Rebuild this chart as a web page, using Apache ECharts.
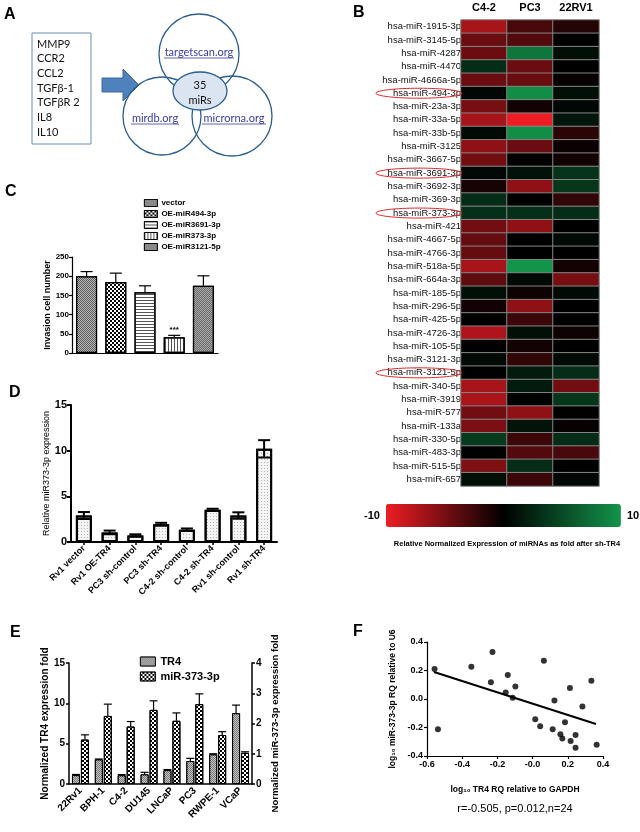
<!DOCTYPE html>
<html><head><meta charset="utf-8">
<script src="https://cdn.jsdelivr.net/npm/echarts@6/dist/echarts.min.js"></script>
<style>html,body{margin:0;padding:0;background:#fff}#c{width:640px;height:832px}</style>
</head><body><div id="c"></div>
<script>
// ---------- Panel A ----------
const aGenes = ['MMP9', 'CCR2', 'CCL2', 'TGFβ-1', 'TGFβR 2', 'IL8', 'IL10'];
const aDatabases = ['targetscan.org', 'mirdb.org', 'microrna.org'];
const aOverlap = ['35', 'miRs'];

// ---------- Panel B ----------
const bSamples = ['C4-2', 'PC3', '22RV1'];
const bMirnas = ['hsa-miR-1915-3p','hsa-miR-3145-5p','hsa-miR-4287','hsa-miR-4470','hsa-miR-4666a-5p',
  'hsa-miR-494-3p','hsa-miR-23a-3p','hsa-miR-33a-5p','hsa-miR-33b-5p','hsa-miR-3125','hsa-miR-3667-5p',
  'hsa-miR-3691-3p','hsa-miR-3692-3p','hsa-miR-369-3p','hsa-miR-373-3p','hsa-miR-421','hsa-miR-4667-5p',
  'hsa-miR-4766-3p','hsa-miR-518a-5p','hsa-miR-664a-3p','hsa-miR-185-5p','hsa-miR-296-5p','hsa-miR-425-5p',
  'hsa-miR-4726-3p','hsa-miR-105-5p','hsa-miR-3121-3p','hsa-miR-3121-5p','hsa-miR-340-5p','hsa-miR-3919',
  'hsa-miR-577','hsa-miR-133a','hsa-miR-330-5p','hsa-miR-483-3p','hsa-miR-515-5p','hsa-miR-657'];
const bC42  = [-7,-4.5,-4.5,3,-4.5,0.5,-5,-7,0.7,-6,-4.8,0.5,-1,3,3.2,-4.8,-4.2,-4.2,-7,-4,1,-0.8,0,-7.3,0,0.7,0,-7,-7.2,-4.8,-5.2,4,0,-5.3,1];
const bPC3  = [-3,-3.5,8,-4.5,-4.5,9.5,-0.8,-10,9.5,-4.5,0,1.2,-6,0,3.2,-6,0,0,10,0.7,-0.6,-6,-2.5,1,-0.8,-2,1.8,1.8,0.2,-6,1.3,-2.5,-3.5,3,-2.5];
const b22RV1 = [-1.5,0,1,0,-0.3,1,0.5,1.5,-1.8,-0.5,-0.8,3.5,3.7,-2,3,0,0.7,0,-0.8,-5,0.7,0,0,-0.6,0,0.7,3,-4.8,3.7,0,-0.3,3,-3,0,0.5];
const bHighlight = ['hsa-miR-494-3p', 'hsa-miR-3691-3p', 'hsa-miR-373-3p', 'hsa-miR-3121-5p'];
const bScaleText = ['10', '-10'];
const bScaleTitle = 'Relative Normalized Expression of miRNAs as fold after sh-TR4';

// ---------- Panel C ----------
const cGroups = ['vector', 'OE-miR494-3p', 'OE-miR3691-3p', 'OE-miR373-3p', 'OE-miR3121-5p'];
const cValues = [200, 185, 158, 41, 175];
const cErrors = [12, 23, 17, 5, 26];
const cMarks  = ['', '', '', '***', ''];

// ---------- Panel D ----------
const dGroups = ['Rv1 vector', 'Rv1 OE-TR4', 'PC3 sh-control', 'PC3 sh-TR4', 'C4-2 sh-control', 'C4-2 sh-TR4', 'Rv1 sh-control', 'Rv1 sh-TR4'];
const dValues = [2.9, 1.05, 0.72, 1.95, 1.35, 3.52, 2.9, 10.2];
const dErrors = [0.38, 0.2, 0.12, 0.15, 0.13, 0.12, 0.35, 0.95];

// ---------- Panel E ----------
const eCells = ['22Rv1', 'BPH-1', 'C4-2', 'DU145', 'LNCaP', 'PC3', 'RWPE-1', 'VCaP'];
const eTR4 = [1.1, 3.05, 1.08, 1.2, 1.72, 2.85, 3.68, 8.78];
const eTR4Err = [0.08, 0.05, 0.08, 0.25, 0.07, 0.33, 0.07, 1.0];
const eMiR = [1.47, 2.25, 1.90, 2.45, 2.09, 2.64, 1.62, 1.03];
const eMiRErr = [0.155, 0.39, 0.165, 0.30, 0.26, 0.34, 0.11, 0.035];

// ---------- Panel F ----------
const fTR4 = [-0.557,-0.538,-0.348,-0.228,-0.237,-0.141,-0.153,-0.098,-0.113,0.064,0.015,0.043,0.124,0.114,0.158,0.169,0.184,0.212,0.216,0.244,0.244,0.283,0.334,0.364];
const fMiR = [0.21,-0.213,0.226,0.33,0.118,0.168,0.046,0.088,0.008,0.269,-0.142,-0.192,-0.011,-0.213,-0.248,-0.278,-0.163,0.078,-0.294,-0.252,-0.342,-0.053,0.128,-0.321];
const fFit = [[-0.56, 0.19], [0.36, -0.175]];
const fXTicks = ['-0.6', '-0.4', '-0.2', '-0.0', '0.2', '0.4'];
const fStats = 'r=-0.505, p=0.012,n=24';

// ---------- helpers ----------
const FONT = '"Liberation Sans", Arial, Helvetica, sans-serif';
const BLACK = '#000';
function axisLine(w) { return { show: true, onZero: false, lineStyle: { color: BLACK, width: w } }; }
function axisTick(w, len) { return { show: true, length: len, lineStyle: { color: BLACK, width: w } }; }
function lbl(size, extra) { return Object.assign({ color: BLACK, fontWeight: 'bold', fontSize: size, fontFamily: FONT }, extra || {}); }

const checker = (s, c) => ({ symbol: 'rect', symbolSize: 1, color: c, dashArrayX: [[s, s], [0, s, s, 0]], dashArrayY: [s, 0] });
const hStripes = c => ({ symbol: 'rect', symbolSize: 1, color: c, dashArrayX: [1, 0], dashArrayY: [1, 2] });
const vStripes = c => ({ symbol: 'rect', symbolSize: 1, color: c, dashArrayX: [1, 2], dashArrayY: [1, 0] });
const dots = c => ({ symbol: 'rect', symbolSize: 1, color: c, dashArrayX: [1, 2], dashArrayY: [1, 2] });

const cStyles = [
  { color: '#5c5c5c', decal: checker(1, '#b8b8b8') },
  { color: '#ffffff', decal: checker(2, '#000') },
  { color: '#ffffff', decal: hStripes('#555') },
  { color: '#ffffff', decal: vStripes('#555') },
  { color: '#a9a9a9', decal: checker(1, '#6a6a6a') }
];

function errRender(offsetPx, both, capW, lw, marks) {
  return function (params, api) {
    const i = api.value(0), v = api.value(1), e = api.value(2);
    const pTop = api.coord([i, v + e]);
    const pBot = api.coord([i, both ? v - e : v]);
    const x = pTop[0] + offsetPx;
    const style = { stroke: BLACK, lineWidth: lw };
    const children = [
      { type: 'line', shape: { x1: x, y1: pTop[1], x2: x, y2: pBot[1] }, style },
      { type: 'line', shape: { x1: x - capW, y1: pTop[1], x2: x + capW, y2: pTop[1] }, style }
    ];
    if (both) children.push({ type: 'line', shape: { x1: x - capW, y1: pBot[1], x2: x + capW, y2: pBot[1] }, style });
    if (marks && marks[i]) children.push({ type: 'text', style: { text: marks[i], x: x, y: pTop[1] - 2, align: 'center', verticalAlign: 'bottom', fontSize: 8, fontWeight: 'bold', fontFamily: FONT, fill: BLACK } });
    return { type: 'group', children };
  };
}

// heatmap data
const heatData = [];
bMirnas.forEach((m, r) => {
  [bC42, bPC3, b22RV1].forEach((arr, c) => heatData.push([c, r, arr[r]]));
});

const series = [];
// 0 heatmap
series.push({
  type: 'heatmap', xAxisIndex: 4, yAxisIndex: 5, data: heatData,
  itemStyle: { borderColor: '#858585', borderWidth: 1 },
  emphasis: { disabled: true }, z: 2
});
// C bars
cGroups.forEach((g, i) => {
  series.push({
    type: 'bar', name: g, xAxisIndex: 0, yAxisIndex: 0, barWidth: 21, barGap: '-100%',
    data: cValues.map((v, j) => (j === i ? v : '-')),
    itemStyle: Object.assign({ borderColor: BLACK, borderWidth: 1.2 }, cStyles[i]),
    emphasis: { disabled: true }
  });
});
series.push({
  type: 'custom', xAxisIndex: 0, yAxisIndex: 0, z: 5, silent: true,
  renderItem: errRender(0, false, 6, 1.2, cMarks), encode: { x: 0, y: 1 },
  data: cValues.map((v, i) => [i, v, cErrors[i]])
});
// D
series.push({
  type: 'bar', name: 'D', xAxisIndex: 1, yAxisIndex: 1, barWidth: 16, data: dValues,
  itemStyle: { color: '#f4f4f4', borderColor: BLACK, borderWidth: 2, decal: dots('#b5b5b5') },
  emphasis: { disabled: true }
});
series.push({
  type: 'custom', xAxisIndex: 1, yAxisIndex: 1, z: 5, silent: true,
  renderItem: errRender(0, true, 6, 2), encode: { x: 0, y: 1 },
  data: dValues.map((v, i) => [i, v, dErrors[i]])
});
// E
series.push({
  type: 'bar', name: 'TR4', xAxisIndex: 2, yAxisIndex: 2, barWidth: 8, barGap: '12%', data: eTR4,
  itemStyle: { color: '#787878', borderColor: BLACK, borderWidth: 1, decal: checker(1, '#c4c4c4') },
  emphasis: { disabled: true }
});
series.push({
  type: 'bar', name: 'miR-373-3p', xAxisIndex: 2, yAxisIndex: 3, barWidth: 8, barGap: '12%', data: eMiR,
  itemStyle: { color: '#ffffff', borderColor: BLACK, borderWidth: 1, decal: checker(2, '#000') },
  emphasis: { disabled: true }
});
series.push({
  type: 'custom', xAxisIndex: 2, yAxisIndex: 2, z: 5, silent: true,
  renderItem: errRender(-4.5, false, 4, 1.2), encode: { x: 0, y: 1 },
  data: eTR4.map((v, i) => [i, v, eTR4Err[i]])
});
series.push({
  type: 'custom', xAxisIndex: 2, yAxisIndex: 3, z: 5, silent: true,
  renderItem: errRender(4.5, false, 4, 1.2), encode: { x: 0, y: 1 },
  data: eMiR.map((v, i) => [i, v, eMiRErr[i]])
});
// F
series.push({
  type: 'scatter', xAxisIndex: 3, yAxisIndex: 4, symbolSize: 6,
  itemStyle: { color: BLACK }, data: fTR4.map((x, i) => [x, fMiR[i]]), emphasis: { disabled: true }
});
series.push({
  type: 'line', xAxisIndex: 3, yAxisIndex: 4, data: fFit, symbol: 'none',
  lineStyle: { color: BLACK, width: 2 }, emphasis: { disabled: true }
});

const option = {
  animation: false,
  backgroundColor: '#fff',
  textStyle: { fontFamily: FONT },
  grid: [
    { left: 72, width: 146, top: 257, height: 96, outerBoundsMode: 'none' },   // C
    { left: 71, width: 206, top: 405, height: 137, outerBoundsMode: 'none' },  // D
    { left: 69, width: 183, top: 663, height: 121, outerBoundsMode: 'none' },  // E
    { left: 427, width: 176, top: 642, height: 114, outerBoundsMode: 'none' }, // F
    { left: 461, width: 138, top: 20, height: 466, outerBoundsMode: 'none' }   // B
  ],
  xAxis: [
    { type: 'category', gridIndex: 0, data: cGroups, axisLine: axisLine(1.2), axisTick: { show: false }, axisLabel: { show: false } },
    { type: 'category', gridIndex: 1, data: dGroups, axisLine: axisLine(2), axisTick: Object.assign(axisTick(1.5, 3), { alignWithLabel: true }),
      axisLabel: lbl(9, { rotate: 45, interval: 0, margin: 5 }) },
    { type: 'category', gridIndex: 2, data: eCells, axisLine: axisLine(1.5), axisTick: { show: false },
      axisLabel: lbl(10, { rotate: 45, interval: 0, margin: 5 }) },
    { type: 'value', gridIndex: 3, min: -0.6, max: 0.4, interval: 0.2, axisLine: axisLine(1.2), axisTick: axisTick(1.2, 3),
      splitLine: { show: false },
      axisLabel: lbl(9, { margin: 4, formatter: v => fXTicks[Math.round((v + 0.6) / 0.2)] }),
      name: 'log₁₀ TR4 RQ relative to GAPDH', nameLocation: 'middle', nameGap: 29, nameTextStyle: lbl(8.5) },
    { type: 'category', gridIndex: 4, data: bSamples, position: 'top', axisLine: { show: false }, axisTick: { show: false },
      axisLabel: lbl(11, { margin: 7 }) }
  ],
  yAxis: [
    { type: 'value', gridIndex: 0, min: 0, max: 250, interval: 50, axisLine: axisLine(1.2), axisTick: axisTick(1.2, 3),
      splitLine: { show: false }, axisLabel: lbl(8, { margin: 3 }),
      name: 'Invasion cell number', nameLocation: 'middle', nameGap: 18, nameTextStyle: lbl(9) },
    { type: 'value', gridIndex: 1, min: 0, max: 15, interval: 5, axisLine: axisLine(2), axisTick: axisTick(2, 4),
      splitLine: { show: false }, axisLabel: lbl(11, { margin: 4 }),
      name: 'Relative miR373-3p expression', nameLocation: 'middle', nameGap: 17, nameTextStyle: lbl(9, { fontWeight: 'normal' }) },
    { type: 'value', gridIndex: 2, min: 0, max: 15, interval: 5, axisLine: axisLine(1.5), axisTick: axisTick(1.5, 3),
      splitLine: { show: false }, axisLabel: lbl(10, { margin: 4 }),
      name: 'Normalized TR4 expression fold', nameLocation: 'middle', nameGap: 18, nameRotate: 90, nameTextStyle: lbl(10) },
    { type: 'value', gridIndex: 2, position: 'right', min: 0, max: 4, interval: 1, axisLine: axisLine(1.5), axisTick: axisTick(1.5, 3),
      splitLine: { show: false }, axisLabel: lbl(10, { margin: 4 }),
      name: 'Normalized miR-373-3p expression fold', nameLocation: 'middle', nameGap: 18, nameRotate: 90, nameTextStyle: lbl(9.5) },
    { type: 'value', gridIndex: 3, min: -0.4, max: 0.4, interval: 0.2, axisLine: axisLine(1.2), axisTick: axisTick(1.2, 3),
      splitLine: { show: false }, axisLabel: lbl(9, { margin: 4, formatter: v => (Math.abs(v) < 1e-9 ? '0.0' : v.toFixed(1)) }),
      name: 'log₁₀ miR-373-3p RQ relative to U6', nameLocation: 'middle', nameGap: 30, nameTextStyle: lbl(8.5) },
    { type: 'category', gridIndex: 4, data: bMirnas, inverse: true, axisLine: { show: false }, axisTick: { show: false },
      axisLabel: { color: '#111', fontSize: 9.5, fontFamily: FONT, margin: 0, interval: 0 } }
  ],
  visualMap: [{
    type: 'continuous', seriesIndex: 0, dimension: 2, min: -10, max: 10,
    orient: 'horizontal', left: 364, top: 504, itemWidth: 23, itemHeight: 235,
    text: bScaleText, textGap: 6, calculable: false, hoverLink: false, padding: 0,
    inRange: { color: ['#ee1d24', '#000000', '#12944a'] },
    textStyle: lbl(11)
  }],
  legend: [
    { data: cGroups, orient: 'vertical', left: 139, top: 194, itemWidth: 13, itemHeight: 7, itemGap: 3, selectedMode: false,
      icon: 'rect', textStyle: lbl(8, { padding: [0, 0, 0, -1] }), itemStyle: { borderColor: BLACK, borderWidth: 0.8 } },
    { data: ['TR4', 'miR-373-3p'], orient: 'vertical', left: 135, top: 651, itemWidth: 15, itemHeight: 9, itemGap: 4, selectedMode: false,
      icon: 'rect', textStyle: lbl(11), itemStyle: { borderColor: BLACK, borderWidth: 0.8 } }
  ],
  series: series
};

const chart = echarts.init(document.getElementById('c'), null, { width: 640, height: 832 });
chart.setOption(option);

// ---------- annotations ----------
const g = [];
const letters = [['A', 4, 7], ['B', 353, 5], ['C', 5, 184], ['D', 9, 385], ['E', 10, 625], ['F', 353, 624]];
letters.forEach(l => g.push({ type: 'text', left: l[1], top: l[2], style: { text: l[0], font: 'bold 16px ' + FONT, fill: BLACK } }));

// Panel A
g.push({ type: 'rect', shape: { x: 32, y: 33, width: 59, height: 111 }, style: { fill: '#fff', stroke: '#6a8cb5', lineWidth: 1 } });
aGenes.forEach((t, i) => g.push({ type: 'text', x: 37, y: 44 + i * 14.7, style: { text: t, font: '11px Lato, "Open Sans", sans-serif', fill: '#111', verticalAlign: 'middle' } }));
g.push({ type: 'polygon', shape: { points: [[102, 78], [123, 78], [123, 69], [139, 85], [123, 101], [123, 92], [102, 92]] },
  style: { fill: '#4f81bd', stroke: '#3c6898', lineWidth: 1 } });
const circles = [[199, 54, 40], [162, 116, 39], [232, 116, 40]];
circles.forEach(c => g.push({ type: 'circle', shape: { cx: c[0], cy: c[1], r: c[2] }, style: { fill: 'none', stroke: '#2c5d8f', lineWidth: 1.3 } }));
g.push({ type: 'ellipse', shape: { cx: 200, cy: 91, rx: 27, ry: 19 }, style: { fill: '#dbe5f1', stroke: '#2c5d8f', lineWidth: 1.3 } });
const dbPos = [[199, 52, 70], [155, 118, 48], [234, 118, 64]];
aDatabases.forEach((t, i) => {
  const p = dbPos[i];
  g.push({ type: 'text', x: p[0], y: p[1], style: { text: t, font: '11px Lato, "Open Sans", sans-serif', fill: '#3a3aa8', align: 'center', verticalAlign: 'middle' } });
  g.push({ type: 'line', shape: { x1: p[0] - p[2] / 2, y1: p[1] + 6, x2: p[0] + p[2] / 2, y2: p[1] + 6 }, style: { stroke: '#3a3aa8', lineWidth: 0.8 } });
});
aOverlap.forEach((t, i) => g.push({ type: 'text', x: 200, y: 85 + i * 15, style: { text: t, font: '11px Lato, "Open Sans", sans-serif', fill: '#111', align: 'center', verticalAlign: 'middle' } }));

// Panel B highlight ellipses
bHighlight.forEach(name => {
  const r = bMirnas.indexOf(name);
  const p0 = chart.convertToPixel({ seriesIndex: 0 }, [0, r]);
  const p1 = chart.convertToPixel({ seriesIndex: 0 }, [1, r]);
  const gridLeft = p0[0] - (p1[0] - p0[0]) / 2;
  g.push({ type: 'ellipse', z: 100, shape: { cx: gridLeft - 42, cy: p0[1], rx: 43, ry: 5 }, style: { fill: 'none', stroke: '#e0262b', lineWidth: 1 } });
});
g.push({ type: 'text', x: 507, y: 544, style: { text: bScaleTitle, font: 'bold 7.5px ' + FONT, fill: BLACK, align: 'center', verticalAlign: 'middle' } });

// Panel F stats
g.push({ type: 'text', x: 515, y: 809, style: { text: fStats, font: '11px ' + FONT, fill: BLACK, align: 'center', verticalAlign: 'middle' } });

chart.setOption({ graphic: { elements: g } });
</script>
</body></html>
